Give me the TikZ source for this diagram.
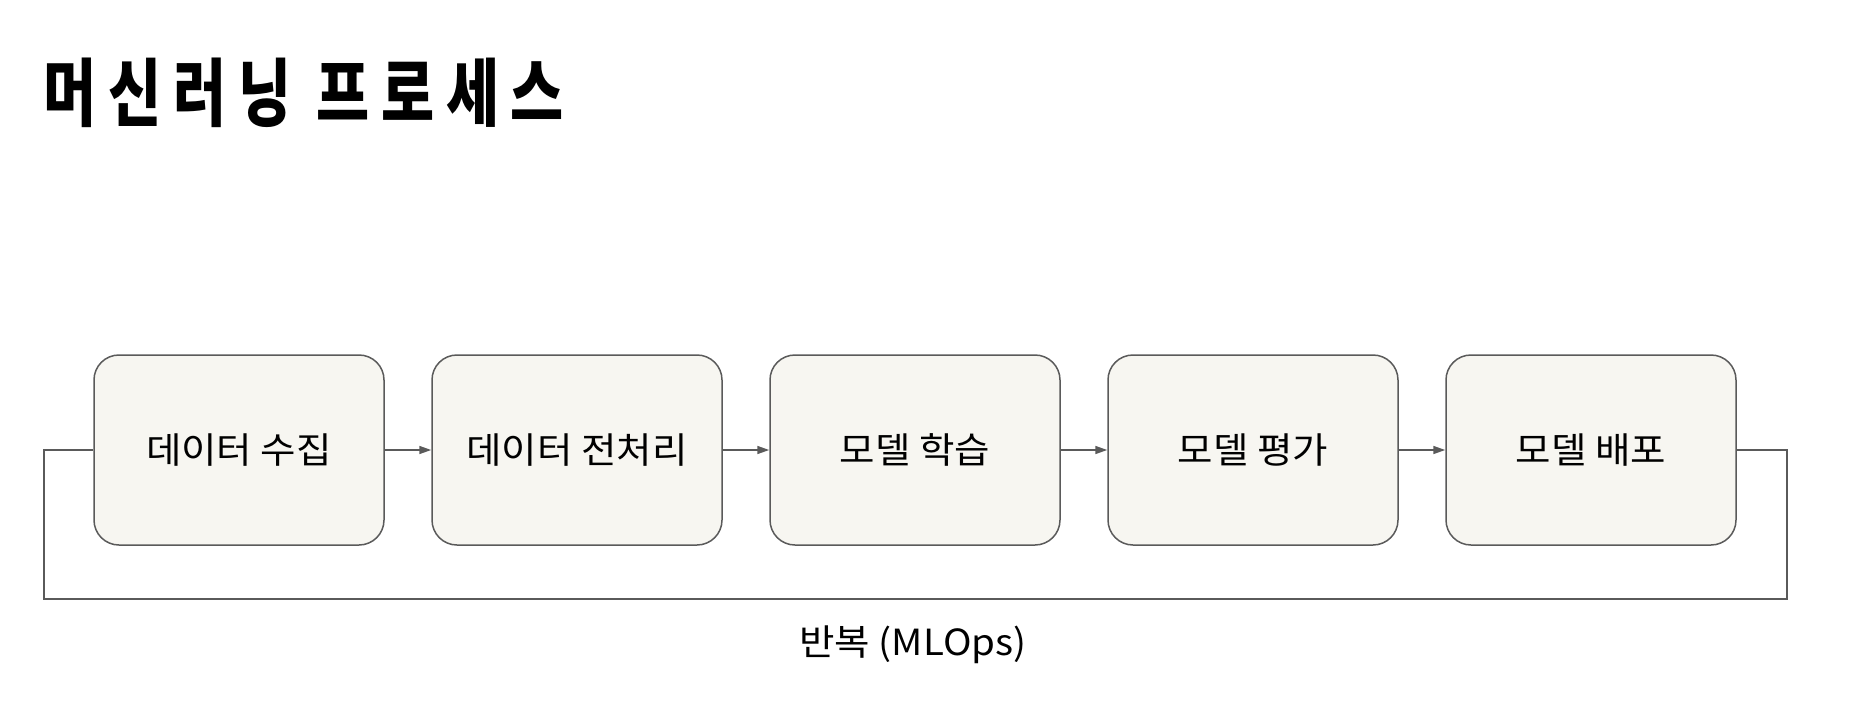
\documentclass[tikz,border=0pt]{standalone}
\usepackage{fontspec}
\setmainfont[FakeStretch=1.07]{Noto Sans CJK KR}
\newfontfamily\titlefont[FakeStretch=0.78,LetterSpace=16]{Noto Sans CJK KR}
\usetikzlibrary{arrows.meta}
\definecolor{boxfill}{HTML}{F7F6F1}
\definecolor{edgegray}{HTML}{5A5A5A}
\begin{document}
\begin{tikzpicture}[x=1pt,y=-1pt,
  stagebox/.style={draw=edgegray, line width=1.5pt, fill=boxfill, rounded corners=25pt,
    minimum width=290pt, minimum height=190pt, inner sep=0pt,
    font=\fontsize{36}{42}\selectfont},
  flow/.style={draw=edgegray, line width=1.5pt, -{Triangle[length=12pt,width=8pt]}},
  backline/.style={draw=edgegray, line width=1.5pt},
  lbl/.style={inner sep=0pt, font=\fontsize{36}{42}\selectfont}]
\fill[white] (0,0) rectangle (1856,723);
\useasboundingbox (0,0) rectangle (1856,723);
\node[anchor=west, inner sep=0pt, font=\titlefont\bfseries\fontsize{74}{80}\selectfont] (title) at (43,93) {머신러닝 프로세스};
\node[stagebox] (s1) at (239,450) {데이터 수집};
\node[stagebox] (s2) at (577,450) {데이터 전처리};
\node[stagebox] (s3) at (915,450) {모델 학습};
\node[stagebox] (s4) at (1253,450) {모델 평가};
\node[stagebox] (s5) at (1591,450) {모델 배포};
\draw[flow] (s1) -- (s2);
\draw[flow] (s2) -- (s3);
\draw[flow] (s3) -- (s4);
\draw[flow] (s4) -- (s5);
\coordinate (R) at (1787,599);
\coordinate (L) at (44,599);
\draw[backline] (s5.east) -| (R) -- (L) |- (s1.west);
\node[lbl] (loopl) at (913,645) {반복 (MLOps)};
\end{tikzpicture}
\end{document}
